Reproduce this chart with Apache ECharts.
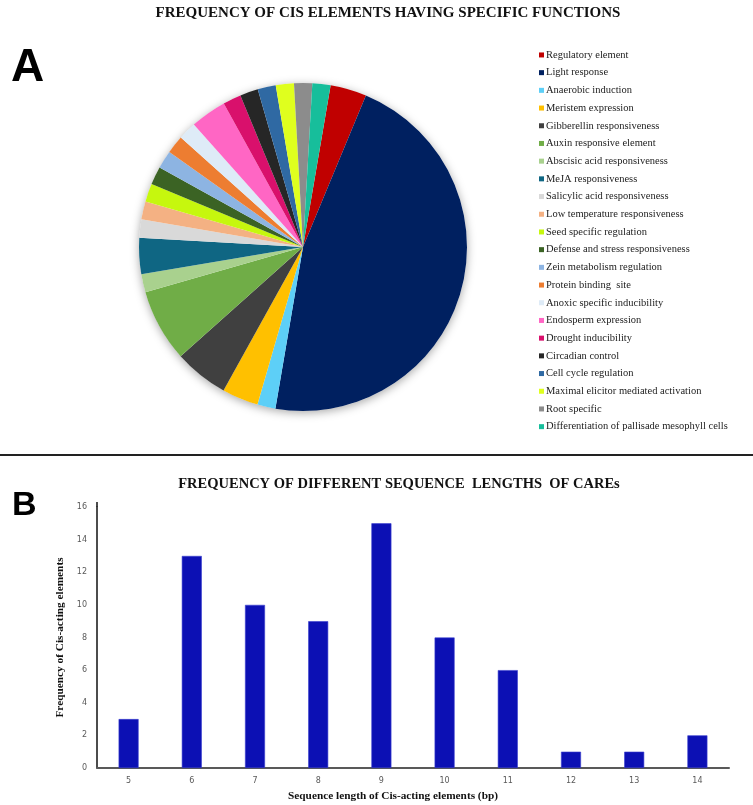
<!DOCTYPE html>
<html>
<head>
<meta charset="utf-8">
<script src="https://cdn.jsdelivr.net/npm/echarts@6/dist/echarts.min.js"></script>
<style>html,body{margin:0;padding:0;background:#fff}#c{width:753px;height:805px}</style>
</head>
<body>
<div id="c"></div>
<script>
const pieNames = ['Regulatory element','Light response','Anaerobic induction','Meristem expression','Gibberellin responsiveness','Auxin responsive element','Abscisic acid responsiveness','MeJA responsiveness','Salicylic acid responsiveness','Low temperature responsiveness','Seed specific regulation','Defense and stress responsiveness','Zein metabolism regulation','Protein binding  site','Anoxic specific inducibility','Endosperm expression','Drought inducibility','Circadian control','Cell cycle regulation','Maximal elicitor mediated activation','Root specific','Differentiation of pallisade mesophyll cells'];
const pieValues = [2,26,1,2,3,4,1,2,1,1,1,1,1,1,1,2,1,1,1,1,1,1];
const pieColors = ['#C00000','#002060','#5DCFF7','#FFC000','#404040','#70AD47','#A9D18E','#0F6683','#D9D9D9','#F4B183','#C6F70E','#3B6324','#8DB4E2','#ED7D31','#DEEBF7','#FF66C4','#D9106C','#262626','#2F69A3','#DFFF1E','#8C8C8C','#17BE9B'];

const barCategories = ['5','6','7','8','9','10','11','12','13','14'];
const barValues = [3,13,10,9,15,8,6,1,1,2];

const chart = echarts.init(document.getElementById('c'));
chart.setOption({
  animation: false,
  title: [
    {text: 'FREQUENCY OF CIS ELEMENTS HAVING SPECIFIC FUNCTIONS', left: 383, top: 1, textAlign: 'center',
     textStyle: {fontFamily: 'Liberation Serif', fontWeight: 'bold', fontSize: 15, color: '#111'}},
    {text: 'FREQUENCY OF DIFFERENT SEQUENCE  LENGTHS  OF CAREs', left: 394, top: 472, textAlign: 'center',
     textStyle: {fontFamily: 'Liberation Serif', fontWeight: 'bold', fontSize: 14.5, color: '#111'}}
  ],
  legend: {
    orient: 'vertical', left: 534, top: 42.6,
    itemWidth: 5, itemHeight: 5, itemGap: 3,
    icon: 'rect',
    data: pieNames,
    textStyle: {fontFamily: 'Liberation Serif', fontSize: 10.5, color: '#222', lineHeight: 14.7, padding: [0,0,0,-3]},
    selectedMode: false
  },
  grid: {left: 97, right: 24, top: 507, bottom: 37, containLabel: false},
  xAxis: {
    type: 'category', data: barCategories,
    axisLine: {lineStyle: {color: '#595959', width: 2}},
    axisTick: {show: false},
    axisLabel: {color: '#595959', fontSize: 8, margin: 9, fontFamily: 'DejaVu Sans'},
    name: 'Sequence length of Cis-acting elements (bp)', nameLocation: 'middle', nameGap: 23,
    nameTextStyle: {fontFamily: 'Liberation Serif', fontWeight: 'bold', fontSize: 11.3, color: '#111', padding: [0, 40, 0, 0]}
  },
  yAxis: {
    type: 'value', min: 0, max: 16, interval: 2,
    axisLine: {show: true, lineStyle: {color: '#111', width: 1.5}},
    axisTick: {show: false},
    splitLine: {show: false},
    axisLabel: {color: '#595959', fontSize: 8, margin: 10, fontFamily: 'DejaVu Sans'},
    name: 'Frequency of Cis-acting elements', nameLocation: 'middle', nameGap: 27,
    nameTextStyle: {fontFamily: 'Liberation Serif', fontWeight: 'bold', fontSize: 11.3, color: '#111'}
  },
  graphic: [
    {type: 'line', shape: {x1: 0, y1: 455, x2: 753, y2: 455}, style: {stroke: '#222', lineWidth: 2}},
    {type: 'line', shape: {x1: 97, y1: 502, x2: 97, y2: 507}, style: {stroke: '#111', lineWidth: 1.5}},
    {type: 'text', left: 11, top: 45, style: {text: 'A', fontFamily: 'Liberation Sans', fontWeight: 'bold', fontSize: 46, fill: '#000'}},
    {type: 'text', left: 12, top: 489, style: {text: 'B', fontFamily: 'Liberation Sans', fontWeight: 'bold', fontSize: 34, fill: '#000'}}
  ],
  series: [
    {
      type: 'pie', silent: true, z: 1, center: [303, 247], radius: 164,
      label: {show: false}, labelLine: {show: false},
      data: [{value: 1, name: '__bg', itemStyle: {color: '#fff', shadowBlur: 10, shadowColor: 'rgba(0,0,0,0.35)', shadowOffsetY: 2}}]
    },
    {
      type: 'pie', z: 2, center: [303, 247], radius: 164, startAngle: 80.3, clockwise: true,
      label: {show: false}, labelLine: {show: false},
      itemStyle: {borderWidth: 0},
      data: pieNames.map((n, i) => ({name: n, value: pieValues[i], itemStyle: {color: pieColors[i]}}))
    },
    {
      type: 'bar', data: barValues, barWidth: 20,
      itemStyle: {color: '#0C10B4', borderColor: '#3A40D0', borderWidth: 0.6}
    }
  ]
});
</script>
</body>
</html>
